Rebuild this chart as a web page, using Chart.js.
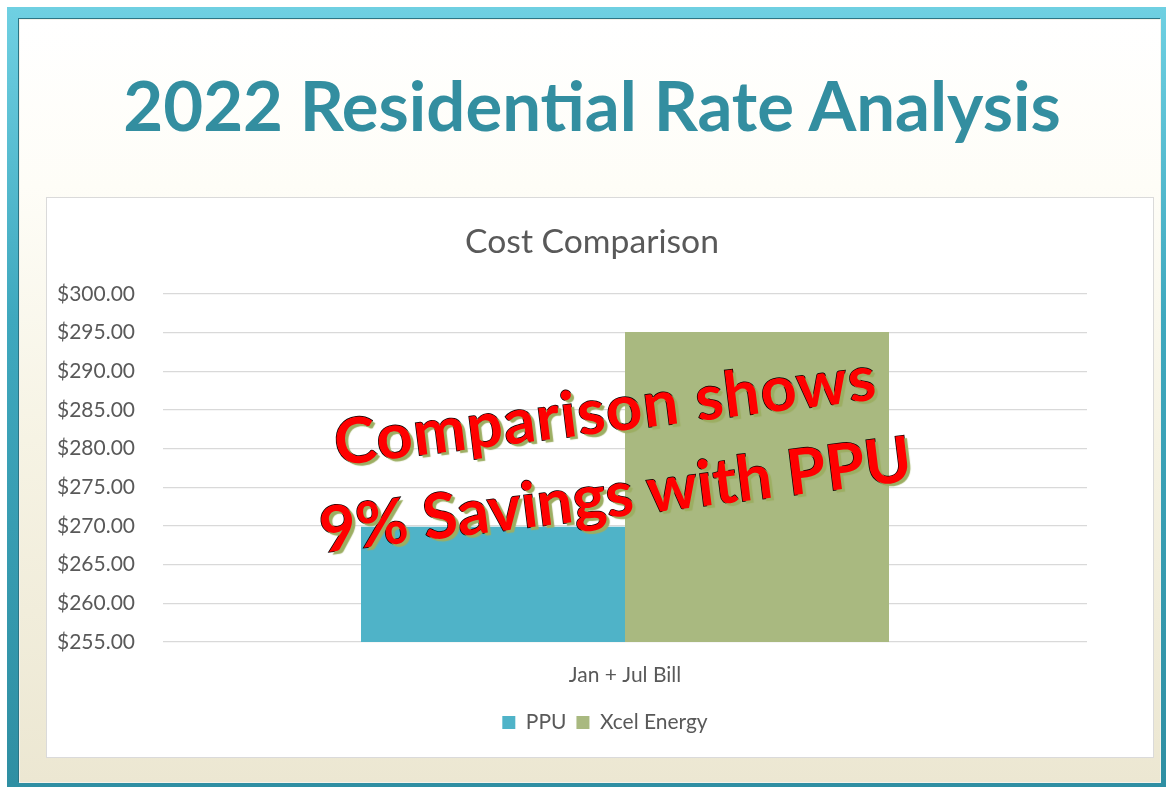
<!DOCTYPE html>
<html>
<head>
<meta charset="utf-8">
<script src="https://cdn.jsdelivr.net/npm/chart.js@4"></script>
<style>
  html, body { margin:0; padding:0; width:1166px; height:787px; overflow:hidden; background:#ffffff; }
  #frame { position:absolute; left:7px; top:7px; width:1159px; height:780px;
           background:linear-gradient(to bottom, #6fd0e2 0%, #3fa8be 40%, #2f8fa3 100%); }
  #inner { position:absolute; left:12px; top:12px; right:5px; bottom:4px;
           background:linear-gradient(to bottom, #ffffff 0%, #fefdf7 22%, #f6f3e4 55%, #ece7d2 100%);
           box-shadow: inset 0 0 0 1px #f4f2ea, -1px -1px 0 #2c7585; }
  #title { position:absolute; left:0; width:1166px; text-align:center; color:#338ea0;
           font-family:Lato, "Open Sans", sans-serif; font-weight:700; line-height:1.2; white-space:nowrap; }
  #box { position:absolute; left:47px; top:198px; width:1106px; height:559px; background:#ffffff;
         outline:1px solid #dadada; }
  #overlay { position:absolute; left:610px; top:450px; transform:translate(-50%,-50%) rotate(-7deg);
             font-family:Lato, "Open Sans", sans-serif; font-weight:700; color:#ff0000; line-height:85px;
             text-align:center; white-space:nowrap; -webkit-text-stroke:1.4px #000; paint-order:stroke fill;
             text-shadow:3px 3px 1px #9cae62; }
  #overlay .l1 { letter-spacing:1px; }
</style>
</head>
<body>
<div id="frame"><div id="inner"></div></div>
<div id="title">2022 Residential Rate Analysis</div>
<div id="box"><canvas id="c" width="1106" height="559"></canvas></div>
<div id="overlay"><div class="l1">Comparison shows</div><div>9% Savings with PPU</div></div>
<script>
// ---- data ----
const categories = ["Jan + Jul Bill"];
const seriesNames = ["PPU", "Xcel Energy"];
const ppuValues = [269.9];
const xcelValues = [295.1];
const yTickMin = 255;
const yTickMax = 300;
const yTickStep = 5;
const chartTitle = "Cost Comparison";

// ---- font fitting helpers ----
const mctx = document.createElement('canvas').getContext('2d');
function fitSize(text, weight, family, target) {
  mctx.font = weight + ' 100px ' + family;
  return 100 * target / mctx.measureText(text).width;
}
const FAM = 'Lato, "Open Sans", sans-serif';

// page title
const tEl = document.getElementById('title');
const tSize = fitSize(tEl.textContent, '700', FAM, 940);
tEl.style.fontSize = tSize + 'px';
tEl.style.top = (132 - 0.987 * tSize) + 'px';
tEl.style.left = (592 - 583) + 'px';

// overlay
const oEl = document.getElementById('overlay');
oEl.style.fontSize = fitSize('9% Savings with PPU', '700', FAM, 597) + 'px';

// chart fonts
const tickSize = fitSize('$300.00', '400', FAM, 78);
const ctSize = fitSize(chartTitle, '400', FAM, 254);
const GREY = '#595959';

const chartAreaTop = 96;
const titleTopPad = 44 - 0.6 * ctSize;
const titleBottomPad = chartAreaTop - titleTopPad - 1.2 * ctSize;

const boxShift = {
  id: 'boxShift',
  afterLayout(chart) {
    const lg = chart.legend;
    if (lg) { lg.left += 38; lg.right += 38; }
    const tt = chart.titleBlock;
    if (tt) { tt.left += 25; tt.right += 25; }
  }
};

new Chart(document.getElementById('c'), {
  type: 'bar',
  data: {
    labels: categories,
    datasets: [
      { label: seriesNames[0], data: ppuValues, backgroundColor: '#4fb3c8' },
      { label: seriesNames[1], data: xcelValues, backgroundColor: '#a9b980' }
    ]
  },
  plugins: [boxShift],
  options: {
    responsive: false,
    animation: false,
    events: [],
    layout: { padding: { left: 0, right: 66, top: 0, bottom: 14 } },
    datasets: { bar: { categoryPercentage: 528 / 924, barPercentage: 1.0 } },
    plugins: {
      title: { display: true, text: chartTitle, color: GREY,
               font: { family: FAM, size: ctSize, weight: '400', lineHeight: 1.2 },
               padding: { top: titleTopPad, bottom: titleBottomPad } },
      legend: { position: 'bottom',
                labels: { color: GREY, font: { family: FAM, size: tickSize }, boxWidth: 13, boxHeight: 13, padding: 10 } },
      tooltip: { enabled: false }
    },
    scales: {
      x: {
        grid: { display: false, drawTicks: false },
        border: { display: false },
        ticks: { color: GREY, font: { family: FAM, size: tickSize }, padding: 21 },
        afterFit: (s) => { s.height = 60; }
      },
      y: {
        min: yTickMin, max: yTickMax,
        grid: { color: '#d9d9d9', lineWidth: 1.3, drawTicks: false },
        border: { display: false },
        ticks: { stepSize: yTickStep, color: GREY, font: { family: FAM, size: tickSize }, padding: 28,
                 callback: (v) => '$' + Number(v).toFixed(2) },
        afterFit: (s) => { s.width = 116; }
      }
    }
  }
});
</script>
</body>
</html>
